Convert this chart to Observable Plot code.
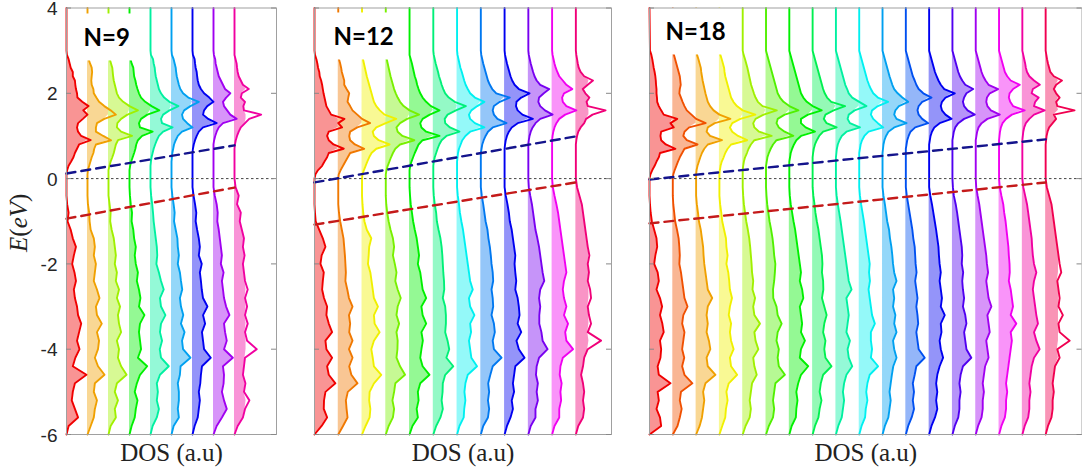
<!DOCTYPE html>
<html><head><meta charset="utf-8">
<script src="https://cdn.jsdelivr.net/npm/d3@7"></script>
<script src="https://cdn.jsdelivr.net/npm/@observablehq/plot@0.6"></script>
<style>
html,body{margin:0;padding:0;background:#fff;}
#chart{position:relative;width:1082px;height:471px;overflow:hidden;background:#fff;}
#chart > div{position:absolute;top:0;}
</style></head><body><div id="chart"></div>
<script>
// ---------- DATA ----------
const eCond = [3.0,2.9,2.8,2.7,2.6,2.5,2.4,2.3,2.2,2.1,2.0,1.9,1.8,1.7,1.6,1.5,1.4,1.3,1.2,1.1,1.0,0.9,0.8,0.7,0.6,0.5,0.4,0.3,0.2,0.1,0.0];
const eVal = [-0.2,-0.4,-0.6,-0.8,-1.0,-1.2,-1.4,-1.6,-1.8,-2.0,-2.2,-2.4,-2.6,-2.8,-3.0,-3.2,-3.4,-3.6,-3.8,-4.0,-4.2,-4.4,-4.6,-4.8,-5.0,-5.2,-5.4,-5.6,-5.8,-6.0];
const eTop = 4;
const yTicks = [4,2,0,-2,-4,-6];
const labels = ["N=9","N=12","N=18"];
const yLabel = "E(eV)";
const xLabel = "DOS (a.u)";

// DOS (units of curve spacing), conduction part on eCond
const cond9 = [
[0,0.02,0.1,0.15,0.2,0.3,0.3,0.4,0.42,0.45, 0.5,0.52,0.75,1.05,0.8,1.0,0.78,0.55,0.5,0.55, 0.7,1.15,0.6,0.5,0.4,0.33,0.22,0.1,0.03,0, 0],
[0,0,0.05,0.12,0.2,0.22,0.2,0.18,0.2,0.28, 0.3,0.42,0.55,0.8,1.1,1.35,0.8,0.45,0.4,0.4, 0.75,1.12,0.4,0.32,0.28,0.2,0.14,0.08,0.02,0, 0],
[0,0,0.06,0.12,0.18,0.2,0.22,0.25,0.3,0.35, 0.4,0.5,0.7,1.0,1.4,0.9,0.6,0.42,0.4,0.6, 1.12,0.45,0.35,0.3,0.25,0.18,0.1,0.05,0,0, 0],
[0,0,0.05,0.1,0.18,0.2,0.22,0.28,0.32,0.38, 0.45,0.55,0.75,1.05,1.42,0.85,0.55,0.45,0.5,1.1, 0.6,0.4,0.32,0.28,0.22,0.15,0.08,0.03,0,0, 0],
[0,0.02,0.12,0.15,0.2,0.22,0.25,0.3,0.35,0.4, 0.5,0.65,0.9,1.33,0.9,0.6,0.5,0.55,1.05,0.6, 0.4,0.3,0.22,0.15,0.1,0.05,0.02,0,0,0, 0],
[0,0.02,0.1,0.15,0.2,0.22,0.25,0.3,0.35,0.42, 0.55,0.8,1.3,0.9,0.6,0.5,0.55,0.75,1.0,0.5, 0.3,0.2,0.12,0.08,0.04,0.02,0,0,0,0, 0],
[0,0.02,0.1,0.12,0.15,0.2,0.22,0.25,0.3,0.4, 0.55,0.8,1.0,0.7,0.55,0.5,0.75,1.15,0.5,0.3, 0.2,0.12,0.06,0.02,0,0,0,0,0,0, 0],
[0,0.02,0.08,0.1,0.15,0.2,0.25,0.35,0.45,0.55, 0.8,0.6,0.45,0.5,0.65,0.8,1.1,0.45,0.25,0.15, 0.08,0.03,0,0,0,0,0,0,0,0, 0],
[0,0,0.05,0.1,0.12,0.15,0.2,0.3,0.4,0.68, 0.35,0.3,0.5,0.42,0.45,1.27,0.7,0.5,0.3,0.2, 0.12,0.06,0.02,0,0,0,0,0,0,0, 0]
];
const val9 = [
[0,0,0.03,0.1,0.05,0.2,0.3,0.45,0.35,0.27, 0.38,0.45,0.35,0.4,0.5,0.55,0.7,0.6,0.5,0.62, 0.42,0.3,0.95,0.4,0.3,0.25,0.4,0.55,0.1,0],
[0,0,0.02,0.08,0.1,0.15,0.3,0.35,0.3,0.4, 0.35,0.3,0.45,0.57,0.4,0.45,0.68,0.45,0.55,0.5, 0.35,0.5,0.81,0.35,0.3,0.45,0.35,0.3,0.15,0],
[0,0,0.05,0.1,0.08,0.15,0.25,0.3,0.35,0.3, 0.4,0.35,0.5,0.4,0.55,0.45,0.5,0.6,0.4,0.5, 0.45,0.6,0.86,0.4,0.3,0.45,0.3,0.35,0.1,0],
[0,0.02,0.06,0.12,0.1,0.18,0.22,0.3,0.25,0.3, 0.4,0.35,0.45,0.52,0.45,0.71,0.5,0.45,0.5,0.55, 0.4,0.84,0.5,0.35,0.25,0.38,0.3,0.25,0.1,0],
[0,0.03,0.08,0.12,0.15,0.2,0.25,0.3,0.32,0.28, 0.4,0.5,0.63,0.45,0.5,0.71,0.5,0.45,0.55,0.44, 0.5,0.87,0.45,0.3,0.35,0.3,0.4,0.3,0.1,0],
[0,0.04,0.1,0.15,0.12,0.2,0.28,0.3,0.35,0.3, 0.4,0.45,0.51,0.4,0.45,0.56,0.45,0.62,0.5,0.55, 0.9,0.43,0.4,0.3,0.35,0.35,0.3,0.35,0.1,0],
[0,0.05,0.12,0.18,0.15,0.22,0.3,0.35,0.3,0.44, 0.35,0.4,0.44,0.5,0.71,0.5,0.6,0.45,0.5,0.55, 0.87,0.45,0.4,0.37,0.3,0.35,0.3,0.25,0.1,0],
[0,0.06,0.15,0.2,0.18,0.25,0.3,0.35,0.4,0.35, 0.48,0.4,0.45,0.5,0.6,0.76,0.5,0.55,0.63,0.5, 0.92,0.45,0.5,0.48,0.4,0.5,0.63,0.4,0.15,0],
[0.05,0.2,0.12,0.3,0.25,0.35,0.45,0.4,0.48,0.4, 0.45,0.5,0.63,0.5,0.6,0.5,0.63,0.5,0.6,1.06, 0.5,0.45,0.4,0.52,0.45,0.71,0.5,0.4,0.15,0]
];
const cond12 = [
[0,0.02,0.08,0.12,0.15,0.2,0.22,0.28,0.32,0.35, 0.38,0.42,0.46,0.5,0.6,0.7,1.26,1.0,1.16,0.6, 0.53,0.6,0.8,1.23,0.6,0.53,0.42,0.32,0.15,0.04, 0],
[0,0,0.03,0.08,0.12,0.15,0.2,0.25,0.25,0.35, 0.46,0.42,0.39,0.5,0.6,0.8,1.0,1.34,0.8,0.5, 0.46,0.5,0.7,1.09,0.5,0.4,0.3,0.2,0.1,0.02, 0],
[0,0,0.04,0.08,0.12,0.16,0.2,0.25,0.3,0.35, 0.4,0.45,0.5,0.6,0.75,0.95,1.44,1.0,0.6,0.45, 0.5,0.7,1.16,0.6,0.4,0.3,0.22,0.15,0.08,0.02, 0],
[0,0,0.04,0.08,0.12,0.16,0.2,0.25,0.3,0.35, 0.42,0.5,0.6,0.75,1.0,1.4,0.9,0.6,0.45,0.5, 0.7,1.2,0.6,0.4,0.3,0.22,0.15,0.08,0.03,0, 0],
[0,0,0.05,0.1,0.14,0.18,0.22,0.28,0.32,0.38, 0.45,0.55,0.7,0.9,1.26,0.85,0.55,0.45,0.5,0.7, 1.26,0.55,0.38,0.3,0.22,0.15,0.08,0.03,0,0, 0],
[0,0.02,0.06,0.1,0.15,0.2,0.24,0.3,0.35,0.42, 0.5,0.65,0.9,1.37,0.95,0.6,0.48,0.5,0.7,1.1, 0.55,0.35,0.25,0.18,0.12,0.06,0.02,0,0,0, 0],
[0,0.02,0.06,0.1,0.14,0.2,0.25,0.3,0.36,0.45, 0.55,0.75,1.15,0.85,0.6,0.5,0.55,0.75,1.15,0.55, 0.35,0.22,0.15,0.08,0.04,0.02,0,0,0,0, 0],
[0,0.02,0.06,0.1,0.15,0.2,0.25,0.3,0.38,0.48, 0.65,1.22,0.8,0.55,0.5,0.55,0.7,1.08,0.5,0.3, 0.2,0.12,0.06,0.03,0,0,0,0,0,0, 0],
[0,0.02,0.06,0.1,0.15,0.2,0.25,0.32,0.42,0.6, 1.05,0.7,0.5,0.48,0.55,0.75,1.19,0.55,0.3,0.18, 0.1,0.05,0.02,0,0,0,0,0,0,0, 0],
[0,0.02,0.06,0.1,0.15,0.2,0.26,0.35,0.5,0.88, 0.65,0.45,0.42,0.5,0.7,1.02,0.5,0.3,0.18,0.1, 0.05,0.02,0,0,0,0,0,0,0,0, 0],
[0,0.02,0.06,0.1,0.15,0.22,0.3,0.45,0.6,0.85, 0.5,0.42,0.45,0.6,1.02,0.55,0.3,0.18,0.1,0.05, 0.02,0,0,0,0,0,0,0,0,0, 0],
[0,0.02,0.05,0.08,0.12,0.2,0.35,0.72,0.5,0.29, 0.4,0.57,0.45,0.5,1.25,0.7,0.43,0.35,0.2,0.1, 0.05,0.02,0,0,0,0,0,0,0,0, 0]
];
const val12 = [
[0,0,0,0.02,0.05,0.2,0.35,0.46,0.3,0.25, 0.39,0.35,0.32,0.4,0.53,0.5,0.6,0.74,0.46,0.5, 0.74,0.53,0.6,0.88,0.46,0.4,0.39,0.53,0.3,0],
[0,0,0,0.03,0.08,0.15,0.22,0.25,0.28,0.3, 0.32,0.3,0.38,0.45,0.6,0.45,0.5,0.46,0.6,0.45, 0.6,0.46,0.55,0.81,0.4,0.32,0.35,0.39,0.2,0],
[0,0,0.02,0.05,0.1,0.2,0.39,0.3,0.28,0.25, 0.35,0.4,0.45,0.5,0.67,0.5,0.53,0.74,0.5,0.39, 0.45,0.5,0.81,0.5,0.32,0.3,0.35,0.32,0.15,0],
[0,0,0.02,0.06,0.12,0.2,0.3,0.35,0.3,0.38, 0.45,0.4,0.5,0.63,0.5,0.45,0.56,0.45,0.5,0.49, 0.45,0.6,0.81,0.4,0.35,0.28,0.35,0.3,0.12,0],
[0,0.02,0.05,0.1,0.15,0.22,0.3,0.35,0.4,0.35, 0.45,0.5,0.55,0.7,0.5,0.55,0.7,0.5,0.56,0.5, 0.45,0.55,0.84,0.45,0.35,0.38,0.3,0.35,0.12,0],
[0,0.02,0.06,0.12,0.15,0.22,0.3,0.35,0.38,0.4, 0.42,0.45,0.46,0.4,0.5,0.53,0.53,0.5,0.6,0.67, 0.55,0.84,0.5,0.4,0.39,0.35,0.4,0.3,0.12,0],
[0,0.03,0.08,0.12,0.18,0.25,0.3,0.35,0.4,0.45, 0.5,0.55,0.66,0.5,0.55,0.73,0.55,0.59,0.5,0.55, 0.6,0.84,0.45,0.35,0.31,0.35,0.3,0.28,0.1,0],
[0,0.04,0.1,0.15,0.2,0.28,0.32,0.38,0.42,0.45, 0.5,0.52,0.45,0.5,0.52,0.45,0.55,0.59,0.5,0.55, 0.87,0.5,0.4,0.31,0.35,0.3,0.35,0.3,0.1,0],
[0,0.05,0.12,0.18,0.22,0.3,0.35,0.4,0.45,0.42, 0.45,0.49,0.45,0.55,0.6,0.63,0.55,0.7,0.5,0.6, 0.84,0.45,0.4,0.35,0.4,0.3,0.35,0.25,0.1,0],
[0.02,0.08,0.15,0.2,0.25,0.3,0.38,0.45,0.5,0.55, 0.6,0.67,0.5,0.45,0.5,0.46,0.46,0.55,0.6,0.81, 0.45,0.35,0.32,0.4,0.35,0.4,0.3,0.3,0.1,0],
[0.03,0.1,0.18,0.25,0.3,0.35,0.4,0.45,0.5,0.55, 0.6,0.5,0.45,0.5,0.6,0.5,0.67,0.55,0.6,0.88, 0.45,0.35,0.32,0.4,0.35,0.38,0.3,0.3,0.1,0],
[0.05,0.15,0.25,0.3,0.35,0.4,0.45,0.5,0.57,0.5, 0.55,0.5,0.6,0.64,0.5,0.55,0.64,0.5,1.06,0.5, 0.35,0.3,0.22,0.3,0.35,0.3,0.35,0.3,0.1,0]
];
const cond18 = [
[0.02,0.08,0.12,0.15,0.18,0.22,0.25,0.27,0.28,0.3, 0.3,0.32,0.33,0.4,0.5,0.61,1.19,0.9,1.04,0.5, 0.47,0.5,0.7,1.11,0.45,0.4,0.3,0.22,0.12,0.04, 0],
[0,0.05,0.1,0.15,0.2,0.25,0.3,0.32,0.34,0.3, 0.28,0.35,0.42,0.5,0.6,0.8,1.0,1.41,0.7,0.5, 0.45,0.6,1.06,0.5,0.4,0.3,0.22,0.15,0.08,0.02, 0],
[0,0.04,0.1,0.15,0.2,0.22,0.25,0.28,0.32,0.36, 0.4,0.45,0.5,0.6,0.75,1.0,1.47,0.8,0.5,0.45, 0.6,1.11,0.5,0.35,0.25,0.18,0.12,0.06,0.02,0, 0],
[0,0.04,0.1,0.15,0.2,0.22,0.25,0.3,0.35,0.4, 0.45,0.5,0.6,0.75,1.0,1.54,0.9,0.55,0.45,0.55, 0.8,1.19,0.5,0.35,0.25,0.18,0.1,0.05,0.02,0, 0],
[0,0.04,0.1,0.15,0.2,0.24,0.28,0.32,0.36,0.42, 0.48,0.55,0.65,0.85,1.46,0.9,0.55,0.45,0.5,0.7, 1.24,0.5,0.35,0.25,0.18,0.1,0.05,0.02,0,0, 0],
[0,0.05,0.1,0.15,0.2,0.25,0.3,0.35,0.4,0.45, 0.5,0.6,0.75,1.0,1.39,0.8,0.5,0.45,0.55,0.8, 1.17,0.45,0.3,0.2,0.12,0.06,0.03,0,0,0, 0],
[0,0.05,0.1,0.15,0.2,0.25,0.3,0.35,0.4,0.45, 0.5,0.6,0.75,1.0,1.39,0.8,0.5,0.5,0.7,1.1, 0.5,0.3,0.2,0.12,0.06,0.03,0,0,0,0, 0],
[0,0.05,0.1,0.15,0.2,0.25,0.3,0.35,0.4,0.45, 0.52,0.62,0.8,1.39,0.9,0.55,0.48,0.6,1.03,0.45, 0.28,0.18,0.1,0.05,0.02,0,0,0,0,0, 0],
[0,0.05,0.1,0.15,0.2,0.25,0.3,0.35,0.4,0.48, 0.55,0.7,1.0,1.31,0.8,0.55,0.5,0.6,1.03,0.45, 0.25,0.15,0.08,0.04,0.02,0,0,0,0,0, 0],
[0,0.05,0.1,0.15,0.2,0.25,0.3,0.35,0.42,0.5, 0.6,0.8,1.24,0.8,0.55,0.5,0.6,0.8,1.03,0.4, 0.22,0.12,0.06,0.03,0,0,0,0,0,0, 0],
[0,0.05,0.1,0.15,0.2,0.25,0.3,0.36,0.42,0.5, 0.65,0.85,1.1,0.7,0.55,0.5,0.6,1.03,0.5,0.25, 0.15,0.08,0.04,0.02,0,0,0,0,0,0, 0],
[0,0.05,0.1,0.15,0.2,0.25,0.3,0.38,0.45,0.55, 0.75,1.1,0.7,0.55,0.5,0.55,0.7,0.96,0.4,0.2, 0.12,0.06,0.03,0,0,0,0,0,0,0, 0],
[0,0.05,0.1,0.15,0.2,0.25,0.32,0.4,0.5,0.65, 1.1,0.7,0.55,0.5,0.55,0.7,0.96,0.45,0.22,0.12, 0.06,0.03,0,0,0,0,0,0,0,0, 0],
[0,0.05,0.1,0.15,0.2,0.25,0.32,0.42,0.55,0.89, 0.6,0.5,0.45,0.5,0.65,0.96,0.5,0.25,0.12,0.06, 0.03,0,0,0,0,0,0,0,0,0, 0],
[0,0.05,0.1,0.15,0.2,0.25,0.32,0.42,0.55,0.96, 0.6,0.48,0.45,0.5,0.65,1.03,0.5,0.25,0.12,0.06, 0.03,0,0,0,0,0,0,0,0,0, 0],
[0,0.05,0.1,0.15,0.2,0.25,0.35,0.5,0.89,0.6, 0.45,0.42,0.48,0.6,1.1,0.55,0.3,0.15,0.08,0.04, 0.02,0,0,0,0,0,0,0,0,0, 0],
[0,0.04,0.08,0.12,0.15,0.2,0.3,0.5,0.75,0.45, 0.4,0.7,0.55,0.5,0.96,0.5,0.3,0.15,0.08,0.04, 0.02,0,0,0,0,0,0,0,0,0, 0],
[0,0.03,0.06,0.1,0.15,0.2,0.35,0.7,0.45,0.35, 0.45,0.6,0.45,0.5,1.24,0.35,0.45,0.3,0.15,0.08, 0.04,0.02,0,0,0,0,0,0,0,0, 0]
];
const val18 = [
[0,0,0.02,0.05,0.1,0.2,0.3,0.33,0.25,0.2, 0.35,0.4,0.3,0.45,0.54,0.45,0.55,0.61,0.45,0.5, 0.47,0.35,0.4,0.9,0.35,0.4,0.3,0.45,0.5,0],
[0,0,0.02,0.06,0.1,0.18,0.25,0.28,0.3,0.28, 0.35,0.4,0.45,0.5,0.63,0.45,0.4,0.5,0.45,0.4, 0.49,0.4,0.5,0.84,0.35,0.3,0.38,0.3,0.2,0],
[0,0,0.03,0.08,0.12,0.2,0.25,0.3,0.32,0.35, 0.4,0.45,0.5,0.69,0.5,0.45,0.5,0.45,0.55,0.61, 0.45,0.5,0.83,0.4,0.3,0.35,0.3,0.25,0.15,0],
[0,0,0.03,0.08,0.12,0.2,0.28,0.3,0.35,0.3, 0.38,0.42,0.45,0.54,0.45,0.4,0.5,0.45,0.5,0.61, 0.45,0.5,0.76,0.4,0.3,0.35,0.28,0.25,0.12,0],
[0,0.02,0.05,0.1,0.15,0.22,0.28,0.32,0.35,0.38, 0.4,0.45,0.42,0.53,0.45,0.5,0.74,0.5,0.55,0.67, 0.45,0.5,0.6,0.4,0.35,0.3,0.35,0.3,0.12,0],
[0,0.02,0.05,0.1,0.15,0.22,0.28,0.32,0.35,0.4, 0.38,0.35,0.3,0.31,0.45,0.5,0.67,0.5,0.45,0.55, 0.5,0.55,0.81,0.4,0.35,0.3,0.35,0.3,0.12,0],
[0,0.02,0.06,0.12,0.18,0.25,0.3,0.35,0.4,0.45, 0.5,0.45,0.55,0.6,0.45,0.5,0.55,0.5,0.67,0.5, 0.45,0.81,0.5,0.38,0.3,0.35,0.3,0.28,0.1,0],
[0,0.03,0.08,0.12,0.18,0.25,0.3,0.35,0.4,0.42, 0.4,0.45,0.46,0.4,0.5,0.6,0.5,0.45,0.55,0.5, 0.55,0.81,0.45,0.35,0.3,0.38,0.3,0.25,0.1,0],
[0,0.03,0.08,0.14,0.2,0.25,0.3,0.35,0.4,0.45, 0.5,0.55,0.67,0.45,0.5,0.55,0.5,0.45,0.6,0.5, 0.55,0.7,0.45,0.35,0.3,0.35,0.3,0.25,0.1,0],
[0,0.03,0.08,0.14,0.2,0.25,0.3,0.35,0.4,0.45, 0.42,0.46,0.4,0.45,0.5,0.55,0.67,0.5,0.5,0.55, 0.5,0.81,0.45,0.35,0.3,0.35,0.28,0.25,0.1,0],
[0,0.04,0.1,0.15,0.2,0.28,0.32,0.38,0.42,0.45, 0.5,0.6,0.45,0.5,0.45,0.55,0.5,0.6,0.45,0.5, 0.6,0.46,0.4,0.35,0.3,0.35,0.3,0.25,0.1,0],
[0,0.04,0.1,0.16,0.22,0.28,0.32,0.38,0.4,0.42, 0.46,0.4,0.45,0.5,0.45,0.5,0.53,0.45,0.5,0.55, 0.81,0.45,0.38,0.3,0.35,0.3,0.35,0.25,0.1,0],
[0,0.05,0.12,0.18,0.24,0.3,0.35,0.4,0.42,0.45, 0.5,0.45,0.5,0.55,0.5,0.67,0.5,0.53,0.45,0.5, 0.6,0.45,0.35,0.3,0.35,0.3,0.35,0.25,0.1,0],
[0.02,0.06,0.14,0.2,0.25,0.3,0.35,0.4,0.42,0.4, 0.46,0.42,0.45,0.5,0.45,0.55,0.6,0.5,0.55,0.6, 0.81,0.45,0.35,0.3,0.35,0.3,0.3,0.25,0.1,0],
[0.02,0.08,0.15,0.2,0.25,0.3,0.35,0.4,0.45,0.48, 0.53,0.45,0.5,0.55,0.67,0.5,0.55,0.6,0.45,0.5, 0.55,0.4,0.35,0.3,0.35,0.3,0.3,0.25,0.1,0],
[0.03,0.1,0.18,0.22,0.28,0.32,0.36,0.4,0.42,0.45, 0.46,0.42,0.5,0.55,0.6,0.5,0.74,0.5,0.55,0.5, 0.45,0.4,0.35,0.3,0.35,0.3,0.3,0.25,0.1,0],
[0.04,0.12,0.2,0.25,0.3,0.35,0.4,0.42,0.45,0.5, 0.6,0.5,0.45,0.5,0.55,0.6,0.67,0.5,0.6,0.74, 0.5,0.4,0.35,0.3,0.35,0.3,0.3,0.25,0.1,0],
[0.05,0.15,0.25,0.3,0.35,0.4,0.45,0.5,0.55,0.6, 0.67,0.5,0.55,0.6,0.55,0.74,0.55,0.6,1.03,0.5, 0.6,0.4,0.35,0.3,0.35,0.3,0.3,0.25,0.1,0]
];
// band edges (eV) at first and last curve
const cbm9 = [0.12, 0.78],  vbm9 = [-0.94, -0.21];
const cbm12 = [-0.09, 0.99], vbm12 = [-1.08, -0.09];
const cbm18 = [-0.02, 0.92], vbm18 = [-1.05, -0.09];

// ---------- LAYOUT / STYLE ----------
const layout = [
  {left: 0,   width: 280, marginLeft: 66, marginRight: 4,   xMax: 10,    yAxis: true,  ldx: 17, ldy: 30.8},
  {left: 290, width: 325, marginLeft: 24, marginRight: 4,   xMax: 12.5,  yAxis: false, ldx: 19, ldy: 29.8},
  {left: 625, width: 457, marginLeft: 24, marginRight: 0.5, xMax: 18.56, yAxis: false, ldx: 16, ldy: 24.8}
];
const fillCap = 1, lastFillCap = 0.55;   // fill width limits (style)
const panels = [
  {cond: cond9,  val: val9,  cbm: cbm9,  vbm: vbm9,  label: labels[0]},
  {cond: cond12, val: val12, cbm: cbm12, vbm: vbm12, label: labels[1]},
  {cond: cond18, val: val18, cbm: cbm18, vbm: vbm18, label: labels[2]}
];
const energy = [eTop, ...eCond, ...eVal];
const container = document.getElementById("chart");

panels.forEach((p, pi) => {
  const L = layout[pi];
  const n = p.cond.length;
  const frameW = L.width - L.marginLeft - L.marginRight;
  const colors = d3.range(n).map(i => d3.hsl(360 * i / n, 1, 0.47).formatHex());
  const rows = [];
  p.cond.forEach((c, i) => {
    const vals = [0, ...c, ...p.val[i]];
    energy.forEach((E, k) => rows.push({i, E, v: vals[k] ?? 0, color: colors[i]}));
  });
  const cap = i => (i === n - 1 ? lastFillCap : fillCap);
  const edge = arr => [{i: 0, E: arr[0]}, {i: n - 1, E: arr[1]}];
  const marks = [
    Plot.areaX(rows, {y: "E", x1: "i", x2: d => d.i + Math.min(d.v, cap(d.i)), z: "i", fill: "color", fillOpacity: 0.42, curve: "linear"}),
    Plot.line(rows, {x: d => d.i + d.v, y: "E", z: "i", stroke: "color", strokeWidth: 1.9, strokeLinejoin: "round"}),
    Plot.ruleY([0], {stroke: "#444", strokeWidth: 1, strokeDasharray: "2.5,2.5"}),
    Plot.line(edge(p.cbm), {x: "i", y: "E", stroke: "#14148c", strokeWidth: 2.4, strokeDasharray: "9,6"}),
    Plot.line(edge(p.vbm), {x: "i", y: "E", stroke: "#c41a1a", strokeWidth: 2.4, strokeDasharray: "9,6"}),
    Plot.text([p.label], {frameAnchor: "top-left", dx: L.ldx, dy: L.ldy, text: d => d, textAnchor: "start", lineAnchor: "middle",
      fontSize: 24, fontWeight: "bold", fontFamily: "Lato", fill: "#000"}),
    Plot.text([xLabel], {frameAnchor: "bottom", dy: 18.7, lineAnchor: "middle", textAnchor: "middle", text: d => d,
      fontSize: 25, fontFamily: "Liberation Serif", fill: "#222"}),
    Plot.frame({stroke: "#a0a0a0", strokeWidth: 1}),
    // inward tick marks on both sides
    Plot.ruleY(yTicks, {y: d => d, insetLeft: frameW - 5, stroke: "#888"}),
    Plot.ruleY(yTicks, {y: d => d, insetRight: frameW - 5, stroke: "#888"})
  ];
  if (L.yAxis) {
    marks.push(Plot.text(yTicks, {y: d => d, frameAnchor: "left", dx: -9, dy: 1, textAnchor: "end", text: d => String(d),
      fontSize: 19, fontFamily: "Liberation Sans", fill: "#262626"}));
    marks.push(Plot.text([yLabel], {frameAnchor: "left", dx: -47.5, dy: 1.5, rotate: -90, text: d => d,
      textAnchor: "middle", lineAnchor: "middle",
      fontSize: 25, fontFamily: "Liberation Serif", fill: "#222"}));
  }
  const svg = Plot.plot({
    width: L.width, height: 471,
    marginLeft: L.marginLeft, marginRight: L.marginRight, marginTop: 7.5, marginBottom: 37,
    x: {domain: [0, L.xMax], axis: null},
    y: {domain: [-6, 4], axis: null},
    style: {background: "transparent", overflow: "visible"},
    marks
  });
  const holder = document.createElement("div");
  holder.style.left = L.left + "px";
  holder.appendChild(svg);
  container.appendChild(holder);

  // white text box behind the N label (occludes curves like the original annotation)
  svg.querySelectorAll("text").forEach(t => {
    if (t.textContent === p.label) {
      const b = t.getBBox();
      const rect = document.createElementNS("http://www.w3.org/2000/svg", "rect");
      rect.setAttribute("x", b.x - 8);
      rect.setAttribute("y", b.y - 9);
      rect.setAttribute("width", b.width + 19);
      rect.setAttribute("height", b.height + 18);
      rect.setAttribute("fill", "#fff");
      if (t.getAttribute("transform")) rect.setAttribute("transform", t.getAttribute("transform"));
      t.parentNode.insertBefore(rect, t);
    }
    if (t.textContent === yLabel) {
      t.textContent = "";
      const mk = (s, it) => {
        const ts = document.createElementNS("http://www.w3.org/2000/svg", "tspan");
        ts.textContent = s;
        if (it) ts.setAttribute("font-style", "italic");
        t.appendChild(ts);
      };
      mk("E", true); mk("(", false); mk("eV", true); mk(")", false);
    }
  });
});
</script>
</body></html>
